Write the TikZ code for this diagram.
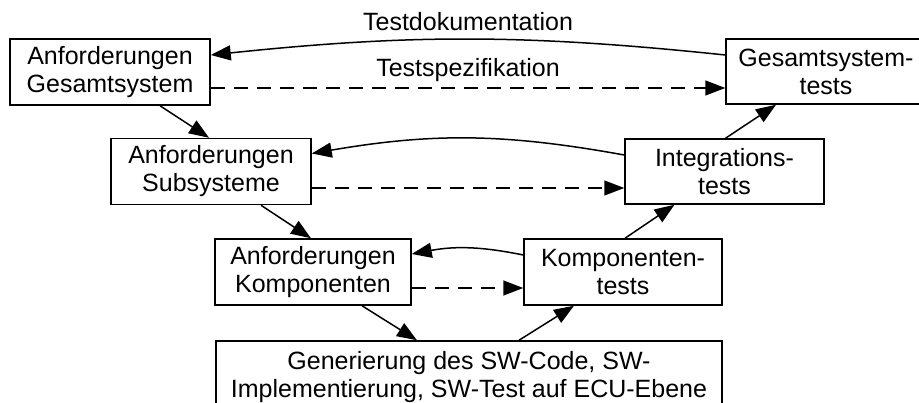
\documentclass[tikz,border=0pt]{standalone}
\usepackage{fontspec}
\setmainfont{Liberation Sans}
\usetikzlibrary{arrows.meta}
\begin{document}
\begin{tikzpicture}[x=1pt,y=-1pt,
  box/.style={draw,line width=1.5pt,rectangle,align=center,inner sep=0pt,
    font=\fontsize{25}{28}\selectfont},
  flow/.style={line width=1.5pt,-{Triangle[length=20pt,width=15pt]}},
  spec/.style={flow,dash pattern=on 14pt off 9pt},
  lbl/.style={font=\fontsize{25}{28}\selectfont,inner sep=0pt}]
\useasboundingbox (0,0) rectangle (919,403);

% left branch: requirements
\node[box,minimum width=200pt,minimum height=66pt] (g1) at (110,72) {Anforderungen\\Gesamtsystem};
\node[box,minimum width=200pt,minimum height=66pt] (s1) at (211,171.5) {Anforderungen\\Subsysteme};
\node[box,minimum width=196pt,minimum height=66pt] (k1) at (313,272) {Anforderungen\\Komponenten};

% bottom: implementation
\node[box,minimum width=506pt,minimum height=72pt] (sw) at (469,377) {Generierung des SW-Code, SW-\\Implementierung, SW-Test auf ECU-Ebene};

% right branch: tests
\node[box,minimum width=198pt,minimum height=66pt] (kt) at (623,272) {Komponenten-\\tests};
\node[box,minimum width=199pt,minimum height=65pt] (it) at (724.5,171.5) {Integrations-\\tests};
\node[box,minimum width=200pt,minimum height=65pt] (gt) at (826,71.5) {Gesamtsystem-\\tests};

% descending and ascending flow
\draw[flow] ([xshift=50pt]g1.south) -- ([xshift=-2pt]s1.north);
\draw[flow] ([xshift=50pt]s1.south) -- ([xshift=-2pt]k1.north);
\draw[flow] ([xshift=49pt]k1.south) -- ([xshift=-52pt]sw.north);
\draw[flow] ([xshift=50pt]sw.north) -- ([xshift=-49pt]kt.south);
\draw[flow] ([xshift=2pt]kt.north) -- ([xshift=-50pt]it.south);
\draw[flow] ([xshift=1pt]it.north) -- ([xshift=-50pt]gt.south);

% test specifications (dashed)
\draw[spec] ([yshift=-16pt]g1.east) -- ([yshift=-16.5pt]gt.west);
\draw[spec] ([yshift=-16.5pt]s1.east) -- ([yshift=-16.5pt]it.west);
\draw[spec] ([yshift=-16pt]k1.east) -- ([yshift=-16pt]kt.west);

% test documentation (solid, curved back)
\draw[flow] ([yshift=16.5pt]gt.west) to[bend right=6] ([yshift=17pt]g1.east);
\draw[flow] ([yshift=16.5pt]it.west) to[bend right=10] ([yshift=18pt]s1.east);
\draw[flow] ([yshift=17pt]kt.west) to[bend right=11] ([yshift=18pt]k1.east);

% labels
\node[lbl] (doc) at (468,22) {Testdokumentation};
\node[lbl] (spc) at (468,70) {Testspezifikation};
\end{tikzpicture}
\end{document}
